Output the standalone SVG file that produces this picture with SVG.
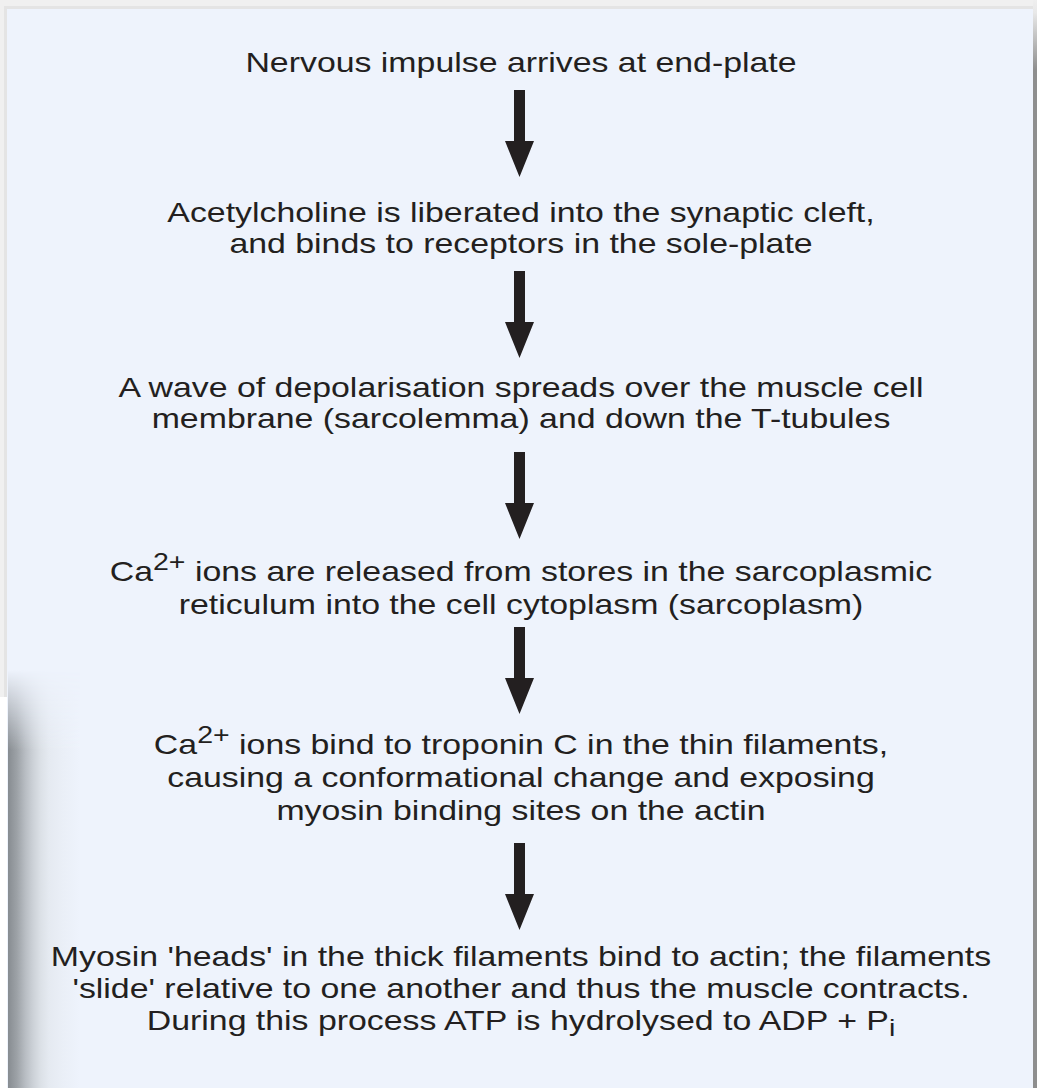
<svg xmlns="http://www.w3.org/2000/svg" width="1037" height="1088" viewBox="0 0 1037 1088">
<style>
  .t { font-family: "Liberation Sans", Arial, sans-serif; font-size: 28.5px; fill: #231f20; text-anchor: middle; }
  .sup { font-size: 24px; }
  .arrow { fill: #231f20; }
</style>
<defs>
  <linearGradient id="shadowH" gradientUnits="userSpaceOnUse" x1="8" y1="0" x2="80" y2="0">
    <stop offset="0" stop-color="#878c91"/>
    <stop offset="0.125" stop-color="#9da2a7"/>
    <stop offset="0.236" stop-color="#b7bcc2"/>
    <stop offset="0.347" stop-color="#ccd1d7"/>
    <stop offset="0.458" stop-color="#dce1e7"/>
    <stop offset="0.569" stop-color="#e5eaf1"/>
    <stop offset="0.764" stop-color="#eaeff7"/>
    <stop offset="1" stop-color="#eef3fc"/>
  </linearGradient>
  <linearGradient id="fadeV" gradientUnits="userSpaceOnUse" x1="0" y1="670" x2="0" y2="750">
    <stop offset="0" stop-color="#000"/>
    <stop offset="1" stop-color="#fff"/>
  </linearGradient>
  <mask id="shadowMask">
    <rect x="0" y="640" width="100" height="448" fill="url(#fadeV)"/>
  </mask>
  <linearGradient id="rightEdge" gradientUnits="userSpaceOnUse" x1="0" y1="0" x2="0" y2="70">
    <stop offset="0" stop-color="#efefef"/>
    <stop offset="0.18" stop-color="#e8e8e8"/>
    <stop offset="1" stop-color="#8e8e8e"/>
  </linearGradient>
  <path id="arr" d="M-5.5,0 H5.5 V51 H14.5 L0,87 L-14.5,51 H-5.5 Z"/>
</defs>

<!-- background -->
<rect x="0" y="0" width="1037" height="1088" fill="#f0f0f0"/>
<rect x="0" y="697" width="8" height="391" fill="#ffffff"/>
<rect x="4" y="6" width="1029" height="3" fill="#e4e4e4"/>
<rect x="4" y="6" width="3" height="691" fill="#e4e4e4"/>
<rect x="7" y="9" width="1026" height="1079" fill="#eef3fc"/>
<rect x="1033" y="0" width="4" height="1088" fill="url(#rightEdge)"/>
<rect x="8" y="640" width="72" height="448" fill="url(#shadowH)" mask="url(#shadowMask)"/>

<!-- nodes -->
<g transform="translate(521,0) scale(1.188,1)">
  <g id="node1">
    <text class="t" x="0" y="72">Nervous impulse arrives at end-plate</text>
  </g>
  <g id="node2">
    <text class="t" x="0" y="222">Acetylcholine is liberated into the synaptic cleft,</text>
    <text class="t" x="0" y="253">and binds to receptors in the sole-plate</text>
  </g>
  <g id="node3">
    <text class="t" x="0" y="397">A wave of depolarisation spreads over the muscle cell</text>
    <text class="t" x="0" y="428">membrane (sarcolemma) and down the T-tubules</text>
  </g>
  <g id="node4">
    <text class="t" x="0" y="581">Ca<tspan class="sup" dy="-11">2+</tspan><tspan dy="11"> ions are released from stores in the sarcoplasmic</tspan></text>
    <text class="t" x="0" y="614">reticulum into the cell cytoplasm (sarcoplasm)</text>
  </g>
  <g id="node5">
    <text class="t" x="0" y="754">Ca<tspan class="sup" dy="-11">2+</tspan><tspan dy="11"> ions bind to troponin C in the thin filaments,</tspan></text>
    <text class="t" x="0" y="787">causing a conformational change and exposing</text>
    <text class="t" x="0" y="820">myosin binding sites on the actin</text>
  </g>
  <g id="node6">
    <text class="t" x="0" y="966">Myosin 'heads' in the thick filaments bind to actin; the filaments</text>
    <text class="t" x="0" y="998">'slide' relative to one another and thus the muscle contracts.</text>
    <text class="t" x="0" y="1030">During this process ATP is hydrolysed to ADP + P<tspan class="sup" dy="6">i</tspan></text>
  </g>
</g>

<!-- connectors -->
<g id="connectors" class="arrow">
  <use href="#arr" transform="translate(519.5,90)"/>
  <use href="#arr" transform="translate(519.5,271)"/>
  <use href="#arr" transform="translate(519.5,452)"/>
  <use href="#arr" transform="translate(519.5,627)"/>
  <use href="#arr" transform="translate(519.5,843)"/>
</g>
</svg>
